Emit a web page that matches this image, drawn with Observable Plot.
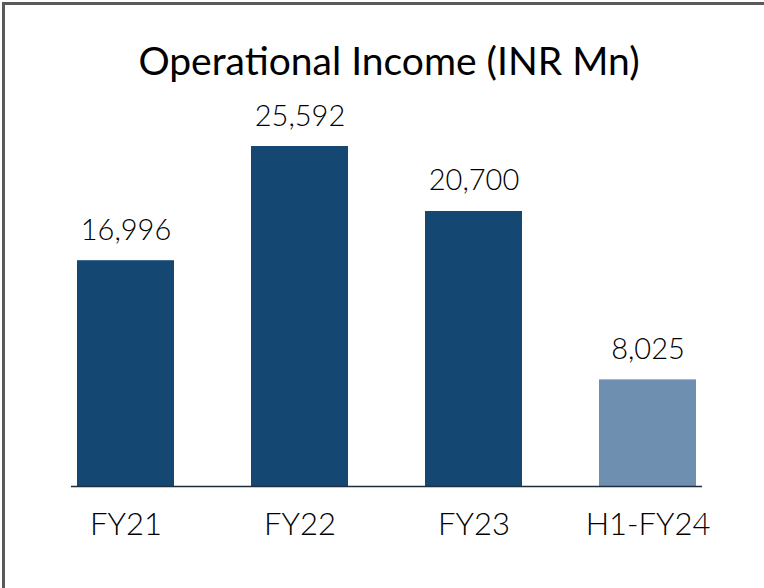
<!DOCTYPE html>
<html>
<head>
<meta charset="utf-8">
<script src="https://cdn.jsdelivr.net/npm/d3@7"></script>
<script src="https://cdn.jsdelivr.net/npm/@observablehq/plot@0.6"></script>
<style>
  html, body { margin: 0; padding: 0; background: #fff; }
  #wrap { position: relative; width: 764px; height: 588px; overflow: hidden; background: #fff; }
  #frame { position: absolute; left: 2px; top: 2px; width: 800px; height: 700px;
           border-left: 3px solid #5a5a5a; border-top: 3px solid #5a5a5a; box-sizing: border-box; }
  #title { position: absolute; left: 0; width: 778px; top: 41px; text-align: center;
           font-family: Lato, "Open Sans", sans-serif; font-weight: 400; font-size: 39px; color: #000; line-height: 1; }
  #chart { position: absolute; left: 0; top: 0; }
</style>
</head>
<body>
<div id="wrap">
  <div id="frame"></div>
  <div id="title">Operational Income (INR Mn)</div>
  <div id="chart"></div>
</div>
<script>
const categories = ["FY21", "FY22", "FY23", "H1-FY24"];
const values = [16996, 25592, 20700, 8025];
const valueLabels = ["16,996", "25,592", "20,700", "8,025"];
const barColors = ["#144872", "#144872", "#144872", "#6f8fb1"];

const data = categories.map((c, i) => ({cat: c, value: values[i], label: valueLabels[i], color: barColors[i]}));

const chart = Plot.plot({
  width: 764,
  height: 588,
  marginLeft: 71,
  marginRight: 62,
  marginTop: 0,
  marginBottom: 102,
  style: {fontFamily: "Lato, 'Open Sans', sans-serif", fontWeight: 300, background: "transparent"},
  x: {domain: categories, paddingInner: 0.44, paddingOuter: 0.023, axis: null},
  y: {domain: [0, 25592 * 486 / 340], axis: null},
  marks: [
    Plot.barY(data, {x: "cat", y: "value", fill: "color"}),
    Plot.ruleY([0], {stroke: "#1f2d3d", strokeWidth: 1.5}),
    Plot.text(data, {x: "cat", y: "value", text: "label", dy: -21, fontSize: 29, fill: "#000", lineAnchor: "bottom"}),
    Plot.text(data, {x: "cat", y: 0, text: "cat", dy: 39, fontSize: 31, fill: "#000"})
  ]
});
document.getElementById("chart").appendChild(chart);
</script>
</body>
</html>
